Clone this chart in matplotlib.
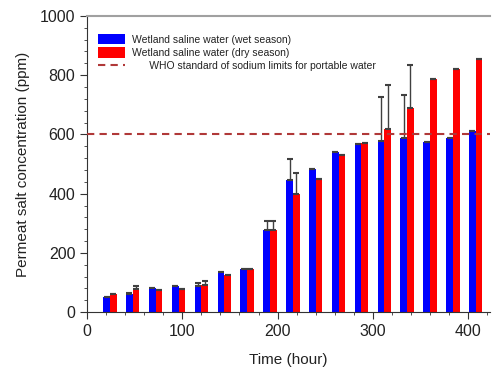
import numpy as np
import matplotlib
matplotlib.use("Agg")
import matplotlib.pyplot as plt
from matplotlib.ticker import MultipleLocator

plt.rcParams['font.family'] = ['Liberation Sans', 'DejaVu Sans']

# time points (hour)
hours = [24, 48, 72, 96, 120, 144, 168, 192, 216, 240, 264, 288, 312, 336, 360, 384, 408]

# permeat salt concentration (ppm)
wet = [52, 60, 82, 87, 89, 136, 145, 276, 446, 484, 542, 568, 579, 587, 574, 588, 612]
dry = [60, 78, 74, 79, 91, 124, 145, 276, 399, 449, 532, 570, 619, 689, 787, 821, 856]

# upper error bars
wet_err = [0, 6, 0, 0, 11, 0, 0, 33, 70, 0, 0, 0, 148, 147, 0, 0, 0]
dry_err = [0, 10, 0, 0, 13, 0, 0, 33, 72, 0, 0, 0, 149, 145, 0, 0, 0]

who_limit = 600

fig = plt.figure(figsize=(4.92, 3.69), dpi=100)
ax = fig.add_axes([0.177, 0.154, 0.819, 0.803])

t = np.array(hours)
w = 7
b1 = ax.bar(t - w / 2, wet, width=w, color='#0000ff', label='Wetland saline water (wet season)', zorder=2)
b2 = ax.bar(t + w / 2, dry, width=w, color='#ff0000', label='Wetland saline water (dry season)', zorder=2)

ax.errorbar(t - w / 2, wet, yerr=[np.zeros(len(wet)), wet_err], fmt='none',
            ecolor='#404040', elinewidth=1, capsize=2.5, capthick=1.5, zorder=3)
ax.errorbar(t + w / 2, dry, yerr=[np.zeros(len(dry)), dry_err], fmt='none',
            ecolor='#404040', elinewidth=1, capsize=2.5, capthick=1.5, zorder=3)

who = ax.axhline(who_limit, color='#b03838', lw=1.5, ls=(0, (3.5, 2.5)),
                 label='      WHO standard of sodium limits for portable water', zorder=4)

ax.set_xlim(0, 423)
ax.set_ylim(0, 1000)
ax.xaxis.set_major_locator(MultipleLocator(100))
ax.xaxis.set_minor_locator(MultipleLocator(20))
ax.yaxis.set_major_locator(MultipleLocator(200))
ax.yaxis.set_minor_locator(MultipleLocator(40))
ax.tick_params(which='major', length=5, width=0.8, color='#333333', labelsize=11.5, labelcolor='#222222')
ax.tick_params(which='minor', length=2.5, width=0.6, color='#333333')

for s in ['left', 'bottom']:
    ax.spines[s].set_color('#333333')
    ax.spines[s].set_linewidth(0.8)
ax.spines['top'].set_color('#a0a0a0')
ax.spines['top'].set_linewidth(1.5)
ax.spines['right'].set_visible(False)

ax.set_xlabel('Time (hour)', fontsize=11, color='#222222', labelpad=10)
ax.set_ylabel('Permeat salt concentration (ppm)', fontsize=11, color='#222222', labelpad=7)

ax.legend(handles=[b1, b2, who], loc='upper left', bbox_to_anchor=(0.0, 0.975), frameon=False,
          fontsize=7.5, handlelength=2.6, handleheight=1.2, handletextpad=0.7, labelspacing=0.25,
          borderaxespad=0.6, labelcolor='#222222')

fig.savefig('out.png', dpi=100)
